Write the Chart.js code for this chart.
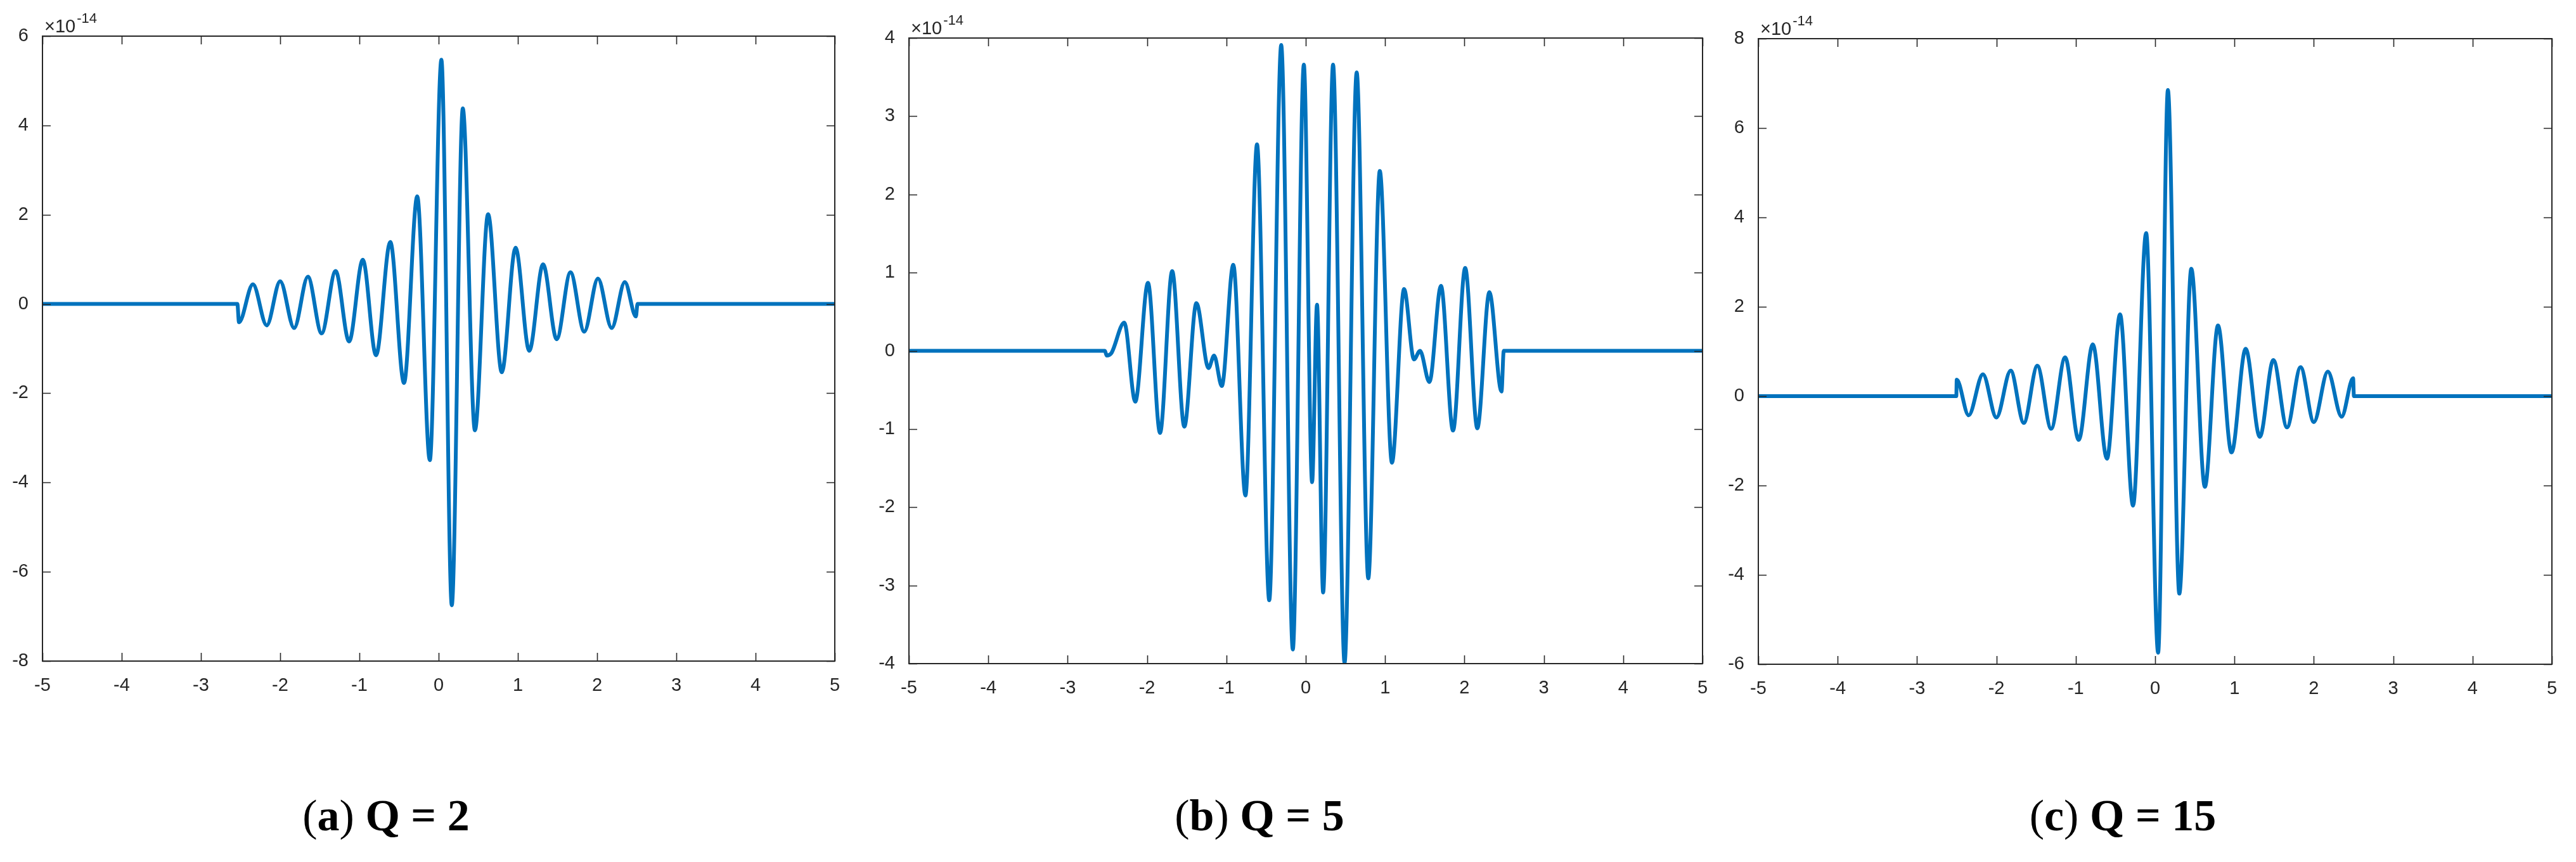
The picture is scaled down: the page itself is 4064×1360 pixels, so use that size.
<!DOCTYPE html>
<html>
<head>
<meta charset="utf-8">
<script src="https://cdn.jsdelivr.net/npm/chart.js@4.4.1/dist/chart.umd.min.js"></script>
<style>
  html, body { margin: 0; padding: 0; background: #fff; }
  body { width: 4064px; height: 1360px; position: relative; overflow: hidden; }
  canvas { position: absolute; top: 0; }
  .cap {
    position: absolute; top: 1252px; transform: translateX(-50%);
    font-family: "Liberation Serif", "Times New Roman", serif;
    font-size: 70px; color: #000; white-space: nowrap; line-height: 1;
  }
  .cap b { font-weight: bold; }
</style>
</head>
<body>
<canvas id="chartA" width="1340" height="1110" style="left:0px"></canvas>
<canvas id="chartB" width="1340" height="1110" style="left:1370px"></canvas>
<canvas id="chartC" width="1354" height="1110" style="left:2710px"></canvas>
<div class="cap" style="left:609px">(<b>a</b>) <b>Q = 2</b></div>
<div class="cap" style="left:1987px">(<b>b</b>) <b>Q = 5</b></div>
<div class="cap" style="left:3349px">(<b>c</b>) <b>Q = 15</b></div>
<script>
// values in units of 1e-14 (the axis shows "x10^-14")
const exponent = "-14"
const xTicks = [-5, -4, -3, -2, -1, 0, 1, 2, 3, 4, 5]

// (a) Q = 2 -- peaks and troughs
const xQ2 = [-5, -2.54, -2.52, -2.344, -2.17, -2.0, -1.824, -1.65, -1.477, -1.30, -1.13, -0.957, -0.79, -0.61, -0.437,
  -0.27, -0.111, 0.035, 0.166, 0.305, 0.458, 0.624, 0.797, 0.971, 1.144, 1.318, 1.49, 1.664, 1.838, 2.011, 2.184,
  2.35, 2.49, 2.51, 5]
const yQ2 = [0, 0, -0.41, 0.44, -0.48, 0.51, -0.54, 0.61, -0.66, 0.74, -0.84, 0.99, -1.15, 1.39, -1.77,
  2.41, -3.5, 5.47, -6.75, 4.38, -2.83, 2.01, -1.53, 1.26, -1.05, 0.89, -0.79, 0.71, -0.62, 0.57, -0.54,
  0.49, -0.28, 0, 0]

// (b) Q = 5
const xQ5 = [-5, -2.53, -2.51, -2.45, -2.287, -2.148, -1.988, -1.836, -1.683, -1.53, -1.378, -1.225, -1.155, -1.058,
  -0.913, -0.76, -0.614, -0.46, -0.309, -0.163, -0.024, 0.08, 0.142, 0.219, 0.344, 0.489, 0.642, 0.788, 0.933,
  1.086, 1.239, 1.364, 1.44, 1.558, 1.704, 1.856, 2.009, 2.162, 2.314, 2.467, 2.495, 5]
const yQ5 = [0, 0, -0.06, -0.03, 0.36, -0.65, 0.87, -1.05, 1.02, -0.97, 0.61, -0.22, -0.06, -0.45,
  1.10, -1.85, 2.64, -3.19, 3.91, -3.82, 3.66, -1.68, 0.59, -3.09, 3.66, -3.99, 3.56, -2.91, 2.30,
  -1.43, 0.79, -0.11, 0.0, -0.40, 0.83, -1.02, 1.06, -0.99, 0.75, -0.52, 0, 0]

// (c) Q = 15
const xQ15 = [-5, -2.505, -2.50, -2.35, -2.17, -2.0, -1.82, -1.655, -1.484, -1.31, -1.134, -0.963, -0.785, -0.607,
  -0.442, -0.278, -0.113, 0.038, 0.161, 0.305, 0.456, 0.627, 0.792, 0.963, 1.141, 1.319, 1.49, 1.662, 1.833,
  2.0, 2.176, 2.35, 2.495, 2.505, 5]
const yQ15 = [0, 0, 0.37, -0.43, 0.49, -0.48, 0.57, -0.60, 0.68, -0.73, 0.87, -0.98, 1.16, -1.40,
  1.83, -2.45, 3.65, -5.74, 6.85, -4.42, 2.85, -2.03, 1.58, -1.26, 1.06, -0.91, 0.81, -0.70, 0.65,
  -0.58, 0.55, -0.46, 0.40, 0, 0]

const axisColor = "#262626"
const lineColor = "#0072BD"
const tickFont = { family: "'Liberation Sans', Arial, sans-serif", size: 29 }

// matlab style box with inward ticks on all four sides + the x10^n label
const matlabBox = {
  id: "matlabBox",
  afterDraw(chart) {
    const { ctx, chartArea: a, scales } = chart
    ctx.save()
    ctx.strokeStyle = axisColor
    ctx.lineWidth = 1.6
    const len = 13
    scales.x.ticks.forEach((t) => {
      const px = Math.round(scales.x.getPixelForValue(t.value)) + 0.5
      ctx.beginPath()
      ctx.moveTo(px, a.bottom); ctx.lineTo(px, a.bottom - len)
      ctx.moveTo(px, a.top); ctx.lineTo(px, a.top + len)
      ctx.stroke()
    })
    scales.y.ticks.forEach((t) => {
      const py = Math.round(scales.y.getPixelForValue(t.value)) + 0.5
      ctx.beginPath()
      ctx.moveTo(a.left, py); ctx.lineTo(a.left + len, py)
      ctx.moveTo(a.right, py); ctx.lineTo(a.right - len, py)
      ctx.stroke()
    })
    ctx.lineWidth = 2
    ctx.strokeRect(a.left, a.top, a.right - a.left, a.bottom - a.top)

    ctx.fillStyle = axisColor
    ctx.textBaseline = "alphabetic"
    ctx.textAlign = "left"
    ctx.font = "29px 'Liberation Sans', Arial, sans-serif"
    const base = "\u00d710"
    ctx.fillText(base, a.left + 3, a.top - 6)
    const w = ctx.measureText(base).width
    ctx.font = "22px 'Liberation Sans', Arial, sans-serif"
    ctx.fillText(exponent, a.left + 5 + w, a.top - 21)
    ctx.restore()
  },
}

function makePanel(id, xs, ys, yMin, yMax, yStep, box) {
  const points = xs.map((x, i) => ({ x: x, y: ys[i] }))
  return new Chart(document.getElementById(id), {
    type: "line",
    data: {
      datasets: [{
        data: points,
        borderColor: lineColor,
        borderWidth: 6,
        pointRadius: 0,
        fill: false,
        cubicInterpolationMode: "monotone",
      }],
    },
    options: {
      responsive: false,
      animation: false,
      events: [],
      plugins: { legend: { display: false }, tooltip: { enabled: false } },
      layout: { padding: { top: box.top, right: box.right, left: 0, bottom: 0 } },
      scales: {
        x: {
          type: "linear",
          min: -5,
          max: 5,
          afterBuildTicks: (s) => { s.ticks = xTicks.map((v) => ({ value: v })) },
          afterFit: (s) => { s.height = box.xh },
          ticks: { font: tickFont, color: axisColor, padding: 14, maxRotation: 0, autoSkip: false },
          grid: { display: false },
          border: { display: false },
        },
        y: {
          min: yMin,
          max: yMax,
          afterFit: (s) => { s.width = box.yw },
          ticks: { stepSize: yStep, font: tickFont, color: axisColor, padding: 14 },
          grid: { display: false },
          border: { display: false },
        },
      },
    },
    plugins: [matlabBox],
  })
}

makePanel("chartA", xQ2, yQ2, -8, 6, 2, { top: 57, right: 23, xh: 67, yw: 67 })
makePanel("chartB", xQ5, yQ5, -4, 4, 1, { top: 60, right: 24, xh: 63, yw: 64 })
makePanel("chartC", xQ15, yQ15, -6, 8, 2, { top: 61, right: 38, xh: 62, yw: 64 })
</script>
</body>
</html>
